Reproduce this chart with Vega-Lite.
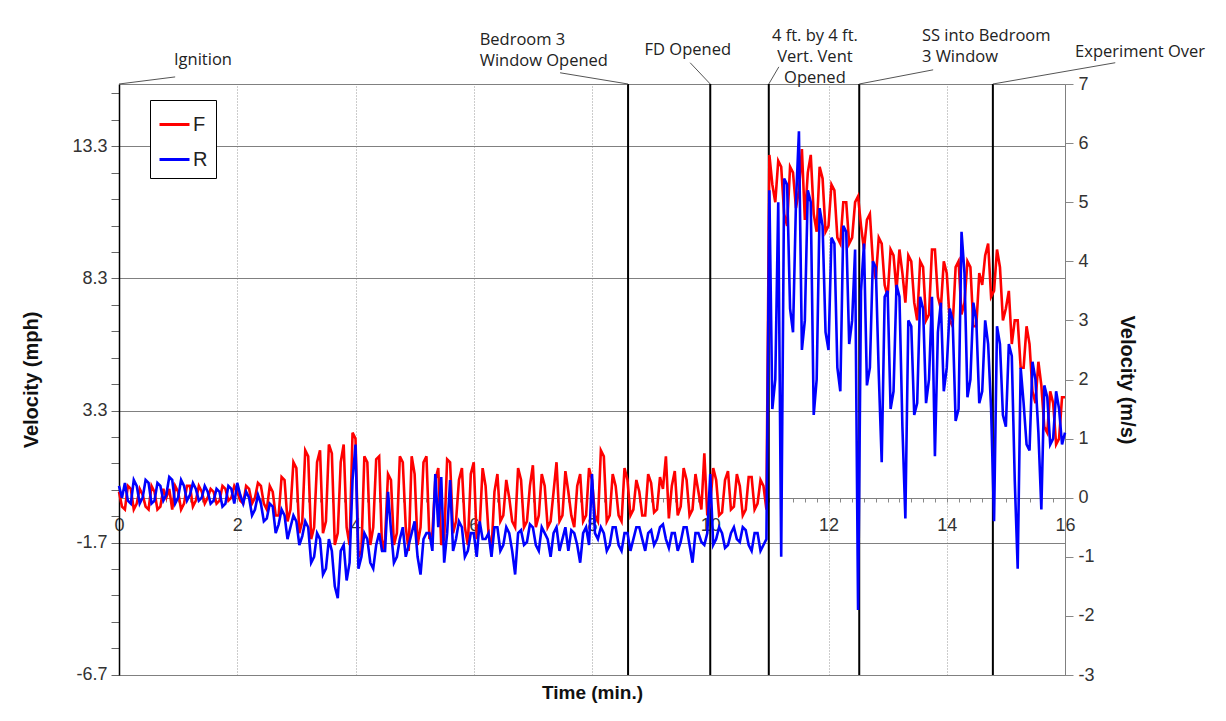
{
  "$schema": "https://vega.github.io/schema/vega-lite/v6.json",
  "width": 946,
  "height": 591,
  "autosize": {"type": "none"},
  "padding": {"left": 119, "top": 84, "right": 161, "bottom": 46},
  "background": "white",
  "config": {
    "view": {"stroke": "#808080", "strokeWidth": 1},
    "font": "Liberation Sans"
  },
  "datasets": {
    "series": [
      {"t":0.00,"F":0.1,"R":0.2},{"t":0.05,"F":-0.15,"R":0.0},{"t":0.10,"F":-0.2,"R":0.25},{"t":0.15,"F":0.2,"R":-0.05},{"t":0.20,"F":0.15,"R":-0.1},
      {"t":0.25,"F":-0.2,"R":0.3},{"t":0.30,"F":-0.1,"R":0.2},{"t":0.35,"F":0.15,"R":-0.1},{"t":0.40,"F":0.05,"R":0.0},{"t":0.45,"F":-0.15,"R":0.3},
      {"t":0.50,"F":-0.2,"R":0.25},{"t":0.55,"F":0.2,"R":-0.1},{"t":0.60,"F":0.1,"R":-0.05},{"t":0.65,"F":-0.2,"R":0.25},{"t":0.70,"F":-0.15,"R":0.2},
      {"t":0.75,"F":0.15,"R":-0.05},{"t":0.80,"F":0.0,"R":0.05},{"t":0.85,"F":0.15,"R":0.35},{"t":0.90,"F":-0.2,"R":0.3},{"t":0.95,"F":0.2,"R":-0.1},
      {"t":1.00,"F":0.1,"R":0.0},{"t":1.05,"F":-0.2,"R":0.3},{"t":1.10,"F":-0.1,"R":0.2},{"t":1.15,"F":0.2,"R":-0.05},{"t":1.20,"F":0.2,"R":0.05},
      {"t":1.25,"F":-0.15,"R":0.25},{"t":1.30,"F":-0.05,"R":0.15},{"t":1.35,"F":0.2,"R":-0.05},{"t":1.40,"F":0.1,"R":0.0},{"t":1.45,"F":-0.1,"R":0.2},
      {"t":1.50,"F":0.0,"R":0.1},{"t":1.55,"F":0.15,"R":-0.1},{"t":1.60,"F":0.1,"R":-0.05},{"t":1.65,"F":-0.1,"R":0.15},{"t":1.70,"F":-0.05,"R":0.1},
      {"t":1.75,"F":0.2,"R":-0.15},{"t":1.80,"F":0.15,"R":-0.1},{"t":1.85,"F":-0.05,"R":0.2},{"t":1.90,"F":0.0,"R":0.15},{"t":1.95,"F":0.2,"R":-0.1},
      {"t":2.00,"F":0.1,"R":0.25},{"t":2.05,"F":-0.05,"R":0.05},{"t":2.10,"F":-0.1,"R":-0.1},{"t":2.15,"F":0.2,"R":0.1},{"t":2.20,"F":0.15,"R":0.0},
      {"t":2.25,"F":-0.1,"R":-0.3},{"t":2.30,"F":0.0,"R":-0.2},{"t":2.35,"F":0.25,"R":0.05},{"t":2.40,"F":0.2,"R":-0.1},{"t":2.45,"F":-0.1,"R":-0.4},
      {"t":2.50,"F":-0.2,"R":-0.35},{"t":2.55,"F":0.2,"R":-0.1},{"t":2.60,"F":0.1,"R":-0.15},{"t":2.65,"F":-0.3,"R":-0.6},{"t":2.70,"F":-0.3,"R":-0.45},
      {"t":2.75,"F":0.35,"R":-0.2},{"t":2.80,"F":0.3,"R":-0.3},{"t":2.85,"F":-0.4,"R":-0.7},{"t":2.90,"F":-0.2,"R":-0.5},{"t":2.95,"F":0.6,"R":-0.3},
      {"t":3.00,"F":0.5,"R":-0.4},{"t":3.05,"F":-0.6,"R":-0.8},{"t":3.10,"F":-0.4,"R":-0.65},{"t":3.15,"F":0.8,"R":-0.4},{"t":3.20,"F":0.7,"R":-0.5},
      {"t":3.25,"F":-0.7,"R":-1.1},{"t":3.30,"F":-0.5,"R":-1.0},{"t":3.35,"F":0.6,"R":-0.6},{"t":3.40,"F":0.8,"R":-0.7},{"t":3.45,"F":-0.6,"R":-1.3},
      {"t":3.50,"F":-0.4,"R":-1.2},{"t":3.55,"F":0.9,"R":-0.7},{"t":3.60,"F":0.75,"R":-0.9},{"t":3.65,"F":-0.8,"R":-1.5},{"t":3.70,"F":-0.6,"R":-1.7},
      {"t":3.75,"F":0.6,"R":-0.9},{"t":3.80,"F":0.9,"R":-0.8},{"t":3.85,"F":-0.5,"R":-1.4},{"t":3.90,"F":-0.8,"R":-1.1},{"t":3.95,"F":1.1,"R":0.3},
      {"t":4.00,"F":1.0,"R":0.9},{"t":4.05,"F":-1.0,"R":-1.2},{"t":4.10,"F":-0.9,"R":-1.0},{"t":4.15,"F":0.7,"R":-0.6},{"t":4.20,"F":0.6,"R":-0.7},
      {"t":4.25,"F":-0.8,"R":-1.1},{"t":4.30,"F":-0.5,"R":-1.2},{"t":4.35,"F":0.65,"R":-0.8},{"t":4.40,"F":0.7,"R":-0.6},{"t":4.45,"F":-0.9,"R":-0.9},
      {"t":4.50,"F":-0.7,"R":-0.9},{"t":4.55,"F":0.4,"R":0.1},{"t":4.60,"F":0.3,"R":-0.55},{"t":4.65,"F":-0.8,"R":-1.1},{"t":4.70,"F":-0.6,"R":-1.0},
      {"t":4.75,"F":0.7,"R":-0.7},{"t":4.80,"F":0.6,"R":-0.5},{"t":4.85,"F":-0.5,"R":-1.0},{"t":4.90,"F":-0.9,"R":-0.8},{"t":4.95,"F":0.7,"R":-0.6},
      {"t":5.00,"F":0.4,"R":-0.4},{"t":5.05,"F":-0.8,"R":-1.0},{"t":5.10,"F":-0.5,"R":-1.3},{"t":5.15,"F":0.6,"R":-0.7},{"t":5.20,"F":0.7,"R":-0.6},
      {"t":5.25,"F":-0.7,"R":-0.6},{"t":5.30,"F":-0.6,"R":-0.9},{"t":5.35,"F":0.3,"R":0.4},{"t":5.40,"F":0.5,"R":-0.5},{"t":5.45,"F":-0.8,"R":0.35},
      {"t":5.50,"F":-0.7,"R":-1.1},{"t":5.55,"F":0.65,"R":-0.6},{"t":5.60,"F":0.6,"R":0.3},{"t":5.65,"F":-0.6,"R":-0.9},{"t":5.70,"F":-0.4,"R":-0.7},
      {"t":5.75,"F":0.3,"R":-0.4},{"t":5.80,"F":0.5,"R":-0.5},{"t":5.85,"F":-0.5,"R":-1.0},{"t":5.90,"F":-0.8,"R":-0.9},{"t":5.95,"F":0.4,"R":-0.6},
      {"t":6.00,"F":0.6,"R":-0.6},{"t":6.05,"F":-0.7,"R":-1.0},{"t":6.10,"F":-0.5,"R":-0.4},{"t":6.15,"F":0.5,"R":-0.7},{"t":6.20,"F":0.2,"R":-0.7},
      {"t":6.25,"F":-0.6,"R":-0.6},{"t":6.30,"F":-0.9,"R":-1.0},{"t":6.35,"F":0.1,"R":-0.5},{"t":6.40,"F":0.4,"R":-0.5},{"t":6.45,"F":-0.4,"R":-0.9},
      {"t":6.50,"F":-0.3,"R":-0.8},{"t":6.55,"F":0.3,"R":-0.5},{"t":6.60,"F":0.0,"R":-0.6},{"t":6.65,"F":-0.4,"R":-0.9},{"t":6.70,"F":-0.5,"R":-1.3},
      {"t":6.75,"F":0.5,"R":-0.6},{"t":6.80,"F":0.3,"R":-0.55},{"t":6.85,"F":-0.5,"R":-0.8},{"t":6.90,"F":-0.4,"R":-0.75},{"t":6.95,"F":0.2,"R":-0.45},
      {"t":7.00,"F":0.55,"R":-0.5},{"t":7.05,"F":-0.5,"R":-0.8},{"t":7.10,"F":-0.3,"R":-0.9},{"t":7.15,"F":0.4,"R":-0.5},{"t":7.20,"F":0.2,"R":-0.6},
      {"t":7.25,"F":-0.5,"R":-0.7},{"t":7.30,"F":-0.4,"R":-1.0},{"t":7.35,"F":0.1,"R":-0.6},{"t":7.40,"F":0.6,"R":-0.5},{"t":7.45,"F":-0.4,"R":-0.9},
      {"t":7.50,"F":-0.3,"R":-0.7},{"t":7.55,"F":0.45,"R":-0.5},{"t":7.60,"F":0.1,"R":-0.9},{"t":7.65,"F":-0.3,"R":-0.55},{"t":7.70,"F":-0.5,"R":-0.6},
      {"t":7.75,"F":0.2,"R":-0.8},{"t":7.80,"F":0.4,"R":-1.1},{"t":7.85,"F":-0.4,"R":-0.6},{"t":7.90,"F":-0.3,"R":-0.5},{"t":7.95,"F":0.5,"R":-0.8},
      {"t":8.00,"F":0.3,"R":0.4},{"t":8.05,"F":-0.3,"R":-0.6},{"t":8.10,"F":-0.4,"R":-0.7},{"t":8.15,"F":0.8,"R":-0.5},{"t":8.20,"F":0.7,"R":-0.6},
      {"t":8.25,"F":-0.4,"R":-0.9},{"t":8.30,"F":-0.3,"R":-0.8},{"t":8.35,"F":0.4,"R":-0.5},{"t":8.40,"F":0.2,"R":-0.5},{"t":8.45,"F":-0.3,"R":-0.8},
      {"t":8.50,"F":-0.4,"R":-0.9},{"t":8.55,"F":0.5,"R":-0.6},{"t":8.60,"F":0.3,"R":-0.6},{"t":8.65,"F":-0.3,"R":-0.9},{"t":8.70,"F":-0.2,"R":-0.7},
      {"t":8.75,"F":0.3,"R":-0.5},{"t":8.80,"F":0.1,"R":-0.5},{"t":8.85,"F":-0.3,"R":-0.7},{"t":8.90,"F":-0.3,"R":-0.9},{"t":8.95,"F":0.4,"R":-0.6},
      {"t":9.00,"F":0.25,"R":-0.55},{"t":9.05,"F":-0.25,"R":-0.8},{"t":9.10,"F":-0.2,"R":-0.7},{"t":9.15,"F":0.35,"R":-0.5},{"t":9.20,"F":0.15,"R":-0.45},
      {"t":9.25,"F":0.7,"R":-0.7},{"t":9.30,"F":-0.35,"R":-0.85},{"t":9.35,"F":0.2,"R":-0.6},{"t":9.40,"F":0.45,"R":-0.6},{"t":9.45,"F":-0.3,"R":-0.9},
      {"t":9.50,"F":-0.15,"R":-0.75},{"t":9.55,"F":0.5,"R":-0.5},{"t":9.60,"F":0.3,"R":-0.5},{"t":9.65,"F":-0.3,"R":-0.8},{"t":9.70,"F":-0.2,"R":-1.1},
      {"t":9.75,"F":0.4,"R":-0.6},{"t":9.80,"F":0.1,"R":-0.6},{"t":9.85,"F":-0.2,"R":-0.75},{"t":9.90,"F":0.75,"R":-0.8},{"t":9.95,"F":-0.3,"R":-0.6},
      {"t":10.00,"F":-0.1,"R":0.4},{"t":10.05,"F":0.5,"R":-0.8},{"t":10.10,"F":0.3,"R":-0.7},{"t":10.15,"F":-0.3,"R":-0.5},{"t":10.20,"F":-0.25,"R":-0.6},
      {"t":10.25,"F":0.3,"R":-0.85},{"t":10.30,"F":0.45,"R":-0.8},{"t":10.35,"F":-0.2,"R":-0.6},{"t":10.40,"F":-0.15,"R":-0.5},{"t":10.45,"F":0.4,"R":-0.7},
      {"t":10.50,"F":0.2,"R":-0.75},{"t":10.55,"F":-0.3,"R":-0.5},{"t":10.60,"F":-0.2,"R":-0.55},{"t":10.65,"F":0.35,"R":-0.8},{"t":10.70,"F":0.35,"R":-0.9},
      {"t":10.75,"F":-0.2,"R":-0.6},{"t":10.80,"F":-0.1,"R":-0.6},{"t":10.85,"F":0.3,"R":-0.9},{"t":10.90,"F":0.2,"R":-0.8},{"t":10.95,"F":-0.2,"R":-0.7},
      {"t":11.00,"F":5.8,"R":5.2},{"t":11.05,"F":5.3,"R":1.5},{"t":11.10,"F":5.0,"R":2.0},{"t":11.15,"F":5.7,"R":5.0},{"t":11.20,"F":5.6,"R":-1.0},
      {"t":11.25,"F":4.8,"R":5.4},{"t":11.30,"F":4.6,"R":5.3},{"t":11.35,"F":5.6,"R":3.2},{"t":11.40,"F":5.5,"R":2.8},{"t":11.45,"F":4.9,"R":5.0},
      {"t":11.50,"F":5.2,"R":6.2},{"t":11.55,"F":5.9,"R":2.5},{"t":11.60,"F":4.7,"R":3.0},{"t":11.65,"F":5.5,"R":5.2},{"t":11.70,"F":5.8,"R":5.0},
      {"t":11.75,"F":4.8,"R":1.4},{"t":11.80,"F":4.5,"R":2.0},{"t":11.85,"F":5.6,"R":4.9},{"t":11.90,"F":5.4,"R":4.6},{"t":11.95,"F":4.5,"R":2.8},
      {"t":12.00,"F":4.6,"R":2.5},{"t":12.05,"F":5.3,"R":4.4},{"t":12.10,"F":5.2,"R":4.3},{"t":12.15,"F":4.4,"R":2.2},{"t":12.20,"F":4.3,"R":1.8},
      {"t":12.25,"F":5.0,"R":4.6},{"t":12.30,"F":5.0,"R":4.5},{"t":12.35,"F":4.3,"R":2.6},{"t":12.40,"F":4.4,"R":3.0},{"t":12.45,"F":5.0,"R":4.2},
      {"t":12.50,"F":5.1,"R":-1.9},{"t":12.55,"F":4.6,"R":3.5},{"t":12.60,"F":4.2,"R":4.3},{"t":12.65,"F":4.7,"R":1.9},{"t":12.70,"F":4.8,"R":2.2},
      {"t":12.75,"F":4.0,"R":4.0},{"t":12.80,"F":3.7,"R":3.9},{"t":12.85,"F":4.4,"R":2.1},{"t":12.90,"F":4.3,"R":0.6},{"t":12.95,"F":3.6,"R":3.4},
      {"t":13.00,"F":3.4,"R":3.5},{"t":13.05,"F":4.2,"R":1.5},{"t":13.10,"F":4.1,"R":1.8},{"t":13.15,"F":3.5,"R":3.6},{"t":13.20,"F":4.2,"R":3.4},
      {"t":13.25,"F":3.8,"R":1.2},{"t":13.30,"F":3.3,"R":-0.35},{"t":13.35,"F":4.1,"R":3.0},{"t":13.40,"F":4.0,"R":2.9},{"t":13.45,"F":3.3,"R":1.4},
      {"t":13.50,"F":3.0,"R":1.6},{"t":13.55,"F":4.0,"R":3.4},{"t":13.60,"F":3.9,"R":3.2},{"t":13.65,"F":3.0,"R":1.6},{"t":13.70,"F":3.1,"R":2.0},
      {"t":13.75,"F":4.2,"R":3.4},{"t":13.80,"F":4.2,"R":0.7},{"t":13.85,"F":3.4,"R":2.8},{"t":13.90,"F":3.2,"R":3.3},{"t":13.95,"F":4.0,"R":1.8},
      {"t":14.00,"F":3.8,"R":2.2},{"t":14.05,"F":3.0,"R":3.2},{"t":14.10,"F":2.9,"R":3.0},{"t":14.15,"F":3.9,"R":1.3},{"t":14.20,"F":4.0,"R":1.5},
      {"t":14.25,"F":3.1,"R":4.5},{"t":14.30,"F":3.3,"R":3.8},{"t":14.35,"F":4.0,"R":1.7},{"t":14.40,"F":3.9,"R":2.0},{"t":14.45,"F":2.9,"R":3.3},
      {"t":14.50,"F":2.9,"R":3.0},{"t":14.55,"F":3.8,"R":1.6},{"t":14.60,"F":3.6,"R":1.8},{"t":14.65,"F":4.1,"R":3.0},{"t":14.70,"F":4.3,"R":2.6},
      {"t":14.75,"F":3.4,"R":1.5},{"t":14.80,"F":3.5,"R":-0.4},{"t":14.85,"F":4.2,"R":2.9},{"t":14.90,"F":3.9,"R":2.6},{"t":14.95,"F":3.0,"R":1.4},
      {"t":15.00,"F":3.2,"R":1.2},{"t":15.05,"F":3.5,"R":2.6},{"t":15.10,"F":2.6,"R":2.4},{"t":15.15,"F":3.0,"R":0.3},{"t":15.20,"F":3.0,"R":-1.2},
      {"t":15.25,"F":2.2,"R":2.2},{"t":15.30,"F":2.2,"R":1.6},{"t":15.35,"F":2.9,"R":0.9},{"t":15.40,"F":2.6,"R":0.8},{"t":15.45,"F":1.8,"R":2.3},
      {"t":15.50,"F":1.6,"R":2.0},{"t":15.55,"F":2.3,"R":1.1},{"t":15.60,"F":1.9,"R":-0.2},{"t":15.65,"F":1.2,"R":1.9},{"t":15.70,"F":1.1,"R":1.7},
      {"t":15.75,"F":1.8,"R":0.9},{"t":15.80,"F":1.6,"R":1.0},{"t":15.85,"F":0.9,"R":1.8},{"t":15.90,"F":1.0,"R":1.5},{"t":15.95,"F":1.7,"R":0.9},
      {"t":16.00,"F":1.7,"R":1.1}
    ],
    "events": [{"t":8.61},{"t":10.0},{"t":10.99},{"t":12.52},{"t":14.78}],
    "leaders": [
      {"t":0,"v":7,"t2":0.95,"v2":7.12},
      {"t":8.61,"v":7,"t2":7.46,"v2":7.19},
      {"t":10.0,"v":7,"t2":9.66,"v2":7.36},
      {"t":10.99,"v":7,"t2":11.16,"v2":7.29},
      {"t":12.52,"v":7,"t2":13.77,"v2":7.24},
      {"t":14.78,"v":7,"t2":16.85,"v2":7.36}
    ],
    "notesC": [
      {"t":1.42,"v":7.41,"label":["Ignition"]},
      {"t":9.62,"v":7.575,"label":["FD Opened"]},
      {"t":11.77,"v":7.81,"label":["4 ft. by 4 ft.","Vert. Vent","Opened"]},
      {"t":17.27,"v":7.54,"label":["Experiment Over"]}
    ],
    "notesL": [
      {"t":6.1,"v":7.745,"label":["Bedroom 3","Window Opened"]},
      {"t":13.58,"v":7.82,"label":["SS into Bedroom","3 Window"]}
    ],
    "mph": [{"mph":-6.7},{"mph":15.6}]
  },
  "resolve": {"scale": {"y": "independent"}, "axis": {"x": "independent", "y": "independent"}},
  "layer": [
    {
      "data": {"name": "mph"},
      "mark": {"type": "point", "opacity": 0},
      "encoding": {
        "y": {
          "field": "mph", "type": "quantitative",
          "scale": {"domain": [-6.7108, 15.6586], "nice": false, "zero": false},
          "axis": {
            "orient": "left",
            "title": "Velocity (mph)",
            "titleFontSize": 20, "titleFontWeight": "bold", "titleColor": "#111", "titlePadding": 30,
            "values": [-6.7,-5.7,-4.7,-3.7,-2.7,-1.7,-0.7,0.3,1.3,2.3,3.3,4.3,5.3,6.3,7.3,8.3,9.3,10.3,11.3,12.3,13.3,14.3,15.3],
            "labelExpr": "round(datum.value + 6.7) % 5 == 0 ? (datum.value < 0 ? '-' : '') + format(abs(datum.value), '.1f') : ''",
            "labelFontSize": 18, "labelColor": "#333", "labelPadding": 4, "labelOverlap": false, "labelBound": false, "labelFlush": false,
            "tickSize": 8, "tickColor": "#666",
            "domainColor": "#000", "domainWidth": 1.5,
            "grid": true,
            "gridColor": "#808080", "gridWidth": 1,
            "gridOpacity": {"condition": {"test": "round(datum.value + 6.7) % 5 == 0", "value": 1}, "value": 0}
          }
        }
      }
    },
    {
      "data": {"name": "events"},
      "mark": {"type": "rule", "color": "#000", "strokeWidth": 2},
      "encoding": {
        "x": {
          "field": "t", "type": "quantitative",
          "scale": {"domain": [0, 16], "nice": false, "zero": false},
          "axis": {
            "orient": "bottom",
            "title": "Time (min.)", "titleFontSize": 19, "titleFontWeight": "bold", "titleColor": "#111", "titlePadding": 8,
            "values": [2,4,6,8,10,12,14],
            "labels": false, "ticks": false, "domain": false,
            "grid": true, "gridColor": "#999", "gridDash": [1, 2], "gridWidth": 1
          }
        }
      }
    },
    {
      "data": {"name": "series"},
      "transform": [{"fold": ["F", "R"], "as": ["s", "v"]}],
      "mark": {"type": "line", "strokeWidth": 2.6},
      "encoding": {
        "x": {
          "field": "t", "type": "quantitative",
          "scale": {"domain": [0, 16], "nice": false, "zero": false},
          "axis": {
            "orient": "bottom", "offset": -177, "title": null, "grid": false,
            "values": [0,0.2,0.4,0.6,0.8,1,1.2,1.4,1.6,1.8,2,2.2,2.4,2.6,2.8,3,3.2,3.4,3.6,3.8,4,4.2,4.4,4.6,4.8,5,5.2,5.4,5.6,5.8,6,6.2,6.4,6.6,6.8,7,7.2,7.4,7.6,7.8,8,8.2,8.4,8.6,8.8,9,9.2,9.4,9.6,9.8,10,10.2,10.4,10.6,10.8,11,11.2,11.4,11.6,11.8,12,12.2,12.4,12.6,12.8,13,13.2,13.4,13.6,13.8,14,14.2,14.4,14.6,14.8,15,15.2,15.4,15.6,15.8,16],
            "labelExpr": "abs(datum.value - round(datum.value)) < 0.01 && round(datum.value) % 2 == 0 ? format(round(datum.value), 'd') : ''",
            "labelFontSize": 18, "labelColor": "#333", "labelPadding": 14, "labelOverlap": false, "labelBound": false, "labelFlush": false,
            "tickSize": 4, "tickColor": "#888", "domainColor": "#808080"
          }
        },
        "y": {
          "field": "v", "type": "quantitative",
          "scale": {"domain": [-3, 7], "nice": false, "zero": false},
          "axis": {
            "orient": "right",
            "title": "Velocity (m/s)", "titleFontSize": 20, "titleFontWeight": "bold", "titleColor": "#111", "titlePadding": 22,
            "values": [-3,-2,-1,0,1,2,3,4,5,6,7],
            "labelExpr": "datum.value + ''",
            "labelFontSize": 18, "labelColor": "#333", "labelPadding": 5,
            "tickSize": 8, "tickColor": "#888", "domainColor": "#808080", "grid": false
          }
        },
        "color": {
          "field": "s", "type": "nominal",
          "scale": {"domain": ["F", "R"], "range": ["#FF0000", "#0000FF"]},
          "legend": {
            "orient": "none", "legendX": 31, "legendY": 16, "title": null,
            "symbolType": "stroke", "symbolStrokeWidth": 3, "symbolSize": 900,
            "labelFontSize": 20, "labelColor": "#222", "labelOffset": 2,
            "strokeColor": "#000", "fillColor": "white", "padding": 8, "rowPadding": 8
          }
        }
      }
    },
    {
      "data": {"name": "leaders"},
      "mark": {"type": "rule", "color": "#555", "strokeWidth": 1},
      "encoding": {
        "x": {"field": "t", "type": "quantitative", "scale": {"domain": [0, 16], "nice": false, "zero": false}, "axis": null},
        "x2": {"field": "t2"},
        "y": {"field": "v", "type": "quantitative", "scale": {"domain": [-3, 7], "nice": false, "zero": false}, "axis": null},
        "y2": {"field": "v2"}
      }
    },
    {
      "data": {"name": "notesC"},
      "mark": {"type": "text", "align": "center", "baseline": "middle", "font": "Open Sans", "fontSize": 16.5, "lineHeight": 21, "color": "#222"},
      "encoding": {
        "x": {"field": "t", "type": "quantitative", "scale": {"domain": [0, 16], "nice": false, "zero": false}, "axis": null},
        "y": {"field": "v", "type": "quantitative", "scale": {"domain": [-3, 7], "nice": false, "zero": false}, "axis": null},
        "text": {"field": "label"}
      }
    },
    {
      "data": {"name": "notesL"},
      "mark": {"type": "text", "align": "left", "baseline": "middle", "font": "Open Sans", "fontSize": 16.5, "lineHeight": 21, "color": "#222"},
      "encoding": {
        "x": {"field": "t", "type": "quantitative", "scale": {"domain": [0, 16], "nice": false, "zero": false}, "axis": null},
        "y": {"field": "v", "type": "quantitative", "scale": {"domain": [-3, 7], "nice": false, "zero": false}, "axis": null},
        "text": {"field": "label"}
      }
    }
  ]
}
